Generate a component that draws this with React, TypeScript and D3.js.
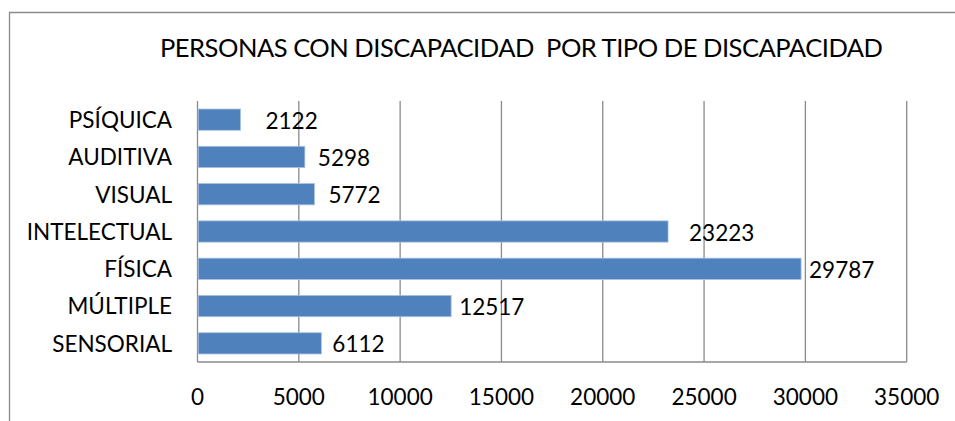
import React, { useRef, useEffect } from 'react';
import * as d3 from 'd3';

// values, top to bottom
const categories = ['PSÍQUICA', 'AUDITIVA', 'VISUAL', 'INTELECTUAL', 'FÍSICA', 'MÚLTIPLE', 'SENSORIAL'];
const values = [2122, 5298, 5772, 23223, 29787, 12517, 6112];
const xTicks = [0, 5000, 10000, 15000, 20000, 25000, 30000, 35000];
const title = 'PERSONAS CON DISCAPACIDAD  POR TIPO DE DISCAPACIDAD';

// the data labels sit a bit unevenly, like the original
const labelNudge = [25, 13, 14, 21, 8, 8, 11];

const W = 955, H = 421;
const FONT = 'Lato, "Open Sans", sans-serif';

const BarChart = () => {
    var margin = { top: 101, left: 197.5, right: 48.3, bottom: 59 };
    var width = W - margin.left - margin.right,
        height = H - margin.top - margin.bottom;

    var xScale = d3.scaleLinear().domain([0, 35000]).range([0, width]);
    var yScale = d3.scaleBand().domain(categories).range([0, height]).paddingInner(0.43).paddingOuter(0.215);

    const ref = useRef(null);
    useEffect(() => {
        d3.select(ref.current).selectAll('*').remove();
        const g = d3.select(ref.current);

        // vertical gridlines
        g.selectAll('line.grid')
            .data(xTicks)
            .enter()
            .append('line')
            .attr('class', 'grid')
            .attr('x1', d => xScale(d))
            .attr('x2', d => xScale(d))
            .attr('y1', 0)
            .attr('y2', height)
            .style('stroke', '#8a8a8a')
            .style('stroke-width', 1.3);

        // bottom axis line
        g.append('line')
            .attr('x1', 0).attr('x2', width)
            .attr('y1', height).attr('y2', height)
            .style('stroke', '#8a8a8a')
            .style('stroke-width', 1.3);

        g.selectAll('rect')
            .data(values)
            .enter()
            .append('rect')
            .attr('x', 0.7)
            .attr('y', (d, i) => yScale(categories[i]))
            .attr('width', d => xScale(d) - 0.7)
            .attr('height', yScale.bandwidth())
            .style('fill', '#4f81bd')
            .style('stroke', '#a9c1df')
            .style('stroke-width', 0.8);

        g.selectAll('text.val')
            .data(values)
            .enter()
            .append('text')
            .attr('class', 'val')
            .attr('x', (d, i) => xScale(d) + labelNudge[i])
            .attr('y', (d, i) => yScale(categories[i]) + yScale.bandwidth() / 2 + 9)
            .style('font-family', FONT)
            .style('font-size', '22.5px')
            .style('fill', '#000')
            .text(d => String(d));

        g.selectAll('text.cat')
            .data(categories)
            .enter()
            .append('text')
            .attr('class', 'cat')
            .attr('x', -25.5)
            .attr('y', d => yScale(d) + yScale.bandwidth() / 2 + 8.4)
            .attr('text-anchor', 'end')
            .style('font-family', FONT)
            .style('font-size', '22.5px')
            .style('fill', '#000')
            .text(d => d);

        g.selectAll('text.tick')
            .data(xTicks)
            .enter()
            .append('text')
            .attr('class', 'tick')
            .attr('x', d => xScale(d))
            .attr('y', height + 43)
            .attr('text-anchor', 'middle')
            .style('font-family', FONT)
            .style('font-size', '22.5px')
            .style('fill', '#000')
            .text(d => String(d));
    }, []);

    return (
        <svg width={W} height={H} style={{ display: 'block', position: 'absolute', left: 0, top: 0 }}>
            <rect x={0} y={0} width={W} height={H} fill="#fff" />
            {/* chart frame, only top and left edges fall inside the picture */}
            <path d={`M${W + 5},12.5 H9.5 V${H + 5}`} fill="none" stroke="#8a8a8a" strokeWidth={1.3} />
            <text x={160} y={56.5} textLength={723} lengthAdjust="spacing"
                style={{ fontFamily: FONT, fontSize: '25.5px', fill: '#000', whiteSpace: 'pre' }}>
                {title}
            </text>
            <g ref={ref} transform={`translate(${margin.left}, ${margin.top})`}></g>
        </svg>
    );
};

export default function App() {
    return <BarChart />;
}
